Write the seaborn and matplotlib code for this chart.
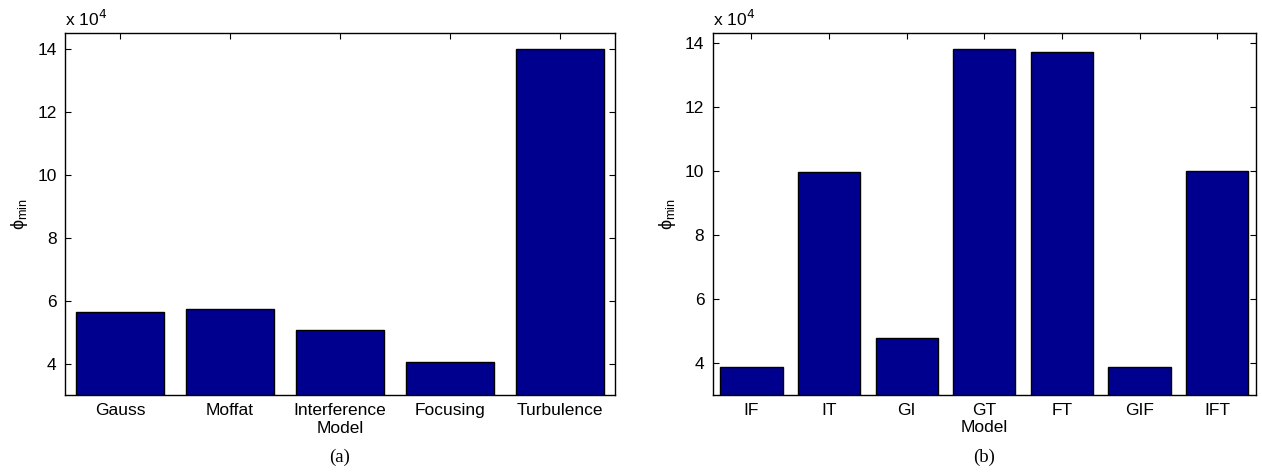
import matplotlib
matplotlib.use('Agg')
import matplotlib.pyplot as plt
import seaborn as sns
import pandas as pd

# data (values in units of 1e4)
models_a = ['Gauss', 'Moffat', 'Interference\nModel', 'Focusing', 'Turbulence']
phi_a = [5.63, 5.73, 5.07, 4.05, 14.0]

models_b = ['IF', 'IT', 'GI', 'GT', 'FT', 'GIF', 'IFT']
phi_b = [3.88, 9.97, 4.78, 13.8, 13.7, 3.87, 9.98]

sns.set_style('white')
plt.rcParams['font.family'] = ['Liberation Sans', 'DejaVu Sans']
plt.rcParams['text.color'] = 'black'
plt.rcParams['axes.labelcolor'] = 'black'
plt.rcParams['xtick.color'] = 'black'
plt.rcParams['ytick.color'] = 'black'

bar_color = '#00008F'


def draw_panel(ax, cats, vals, ylim, xlabel, caption):
    df = pd.DataFrame({'model': cats, 'phi': vals})
    sns.barplot(data=df, x='model', y='phi', ax=ax, color=bar_color,
                saturation=1, width=0.8, edgecolor='black', linewidth=1)
    ax.set_xlim(-0.5, len(cats) - 0.5)
    ax.set_ylim(*ylim)
    ax.set_yticks([4, 6, 8, 10, 12, 14])
    ax.tick_params(direction='in', length=4, width=0.8, labelsize=12.5,
                   top=True, right=True, bottom=True, left=True, pad=6)
    for s in ax.spines.values():
        s.set_color('black')
        s.set_linewidth(1)
    ax.set_ylabel(r'$\mathregular{\phi_{min}}$', fontsize=13, labelpad=5)
    ax.set_xlabel(xlabel, fontsize=12.5, labelpad=1)
    ax.text(0, 1.012, r'x 10$^{4}$', transform=ax.transAxes, fontsize=12.5,
            ha='left', va='bottom')
    ax.text(0.5, -0.171, caption, transform=ax.transAxes, ha='center',
            va='center', fontsize=13.5, family='Liberation Serif')


fig = plt.figure(figsize=(12.62, 4.72), dpi=100)
ax1 = fig.add_axes([0.0515, 0.163, 0.4355, 0.767])
ax2 = fig.add_axes([0.5647, 0.163, 0.4305, 0.767])

draw_panel(ax1, models_a, phi_a, (3, 14.5), '', '(a)')
draw_panel(ax2, models_b, phi_b, (3, 14.3), 'Model', '(b)')

fig.savefig('out.png', dpi=100)
